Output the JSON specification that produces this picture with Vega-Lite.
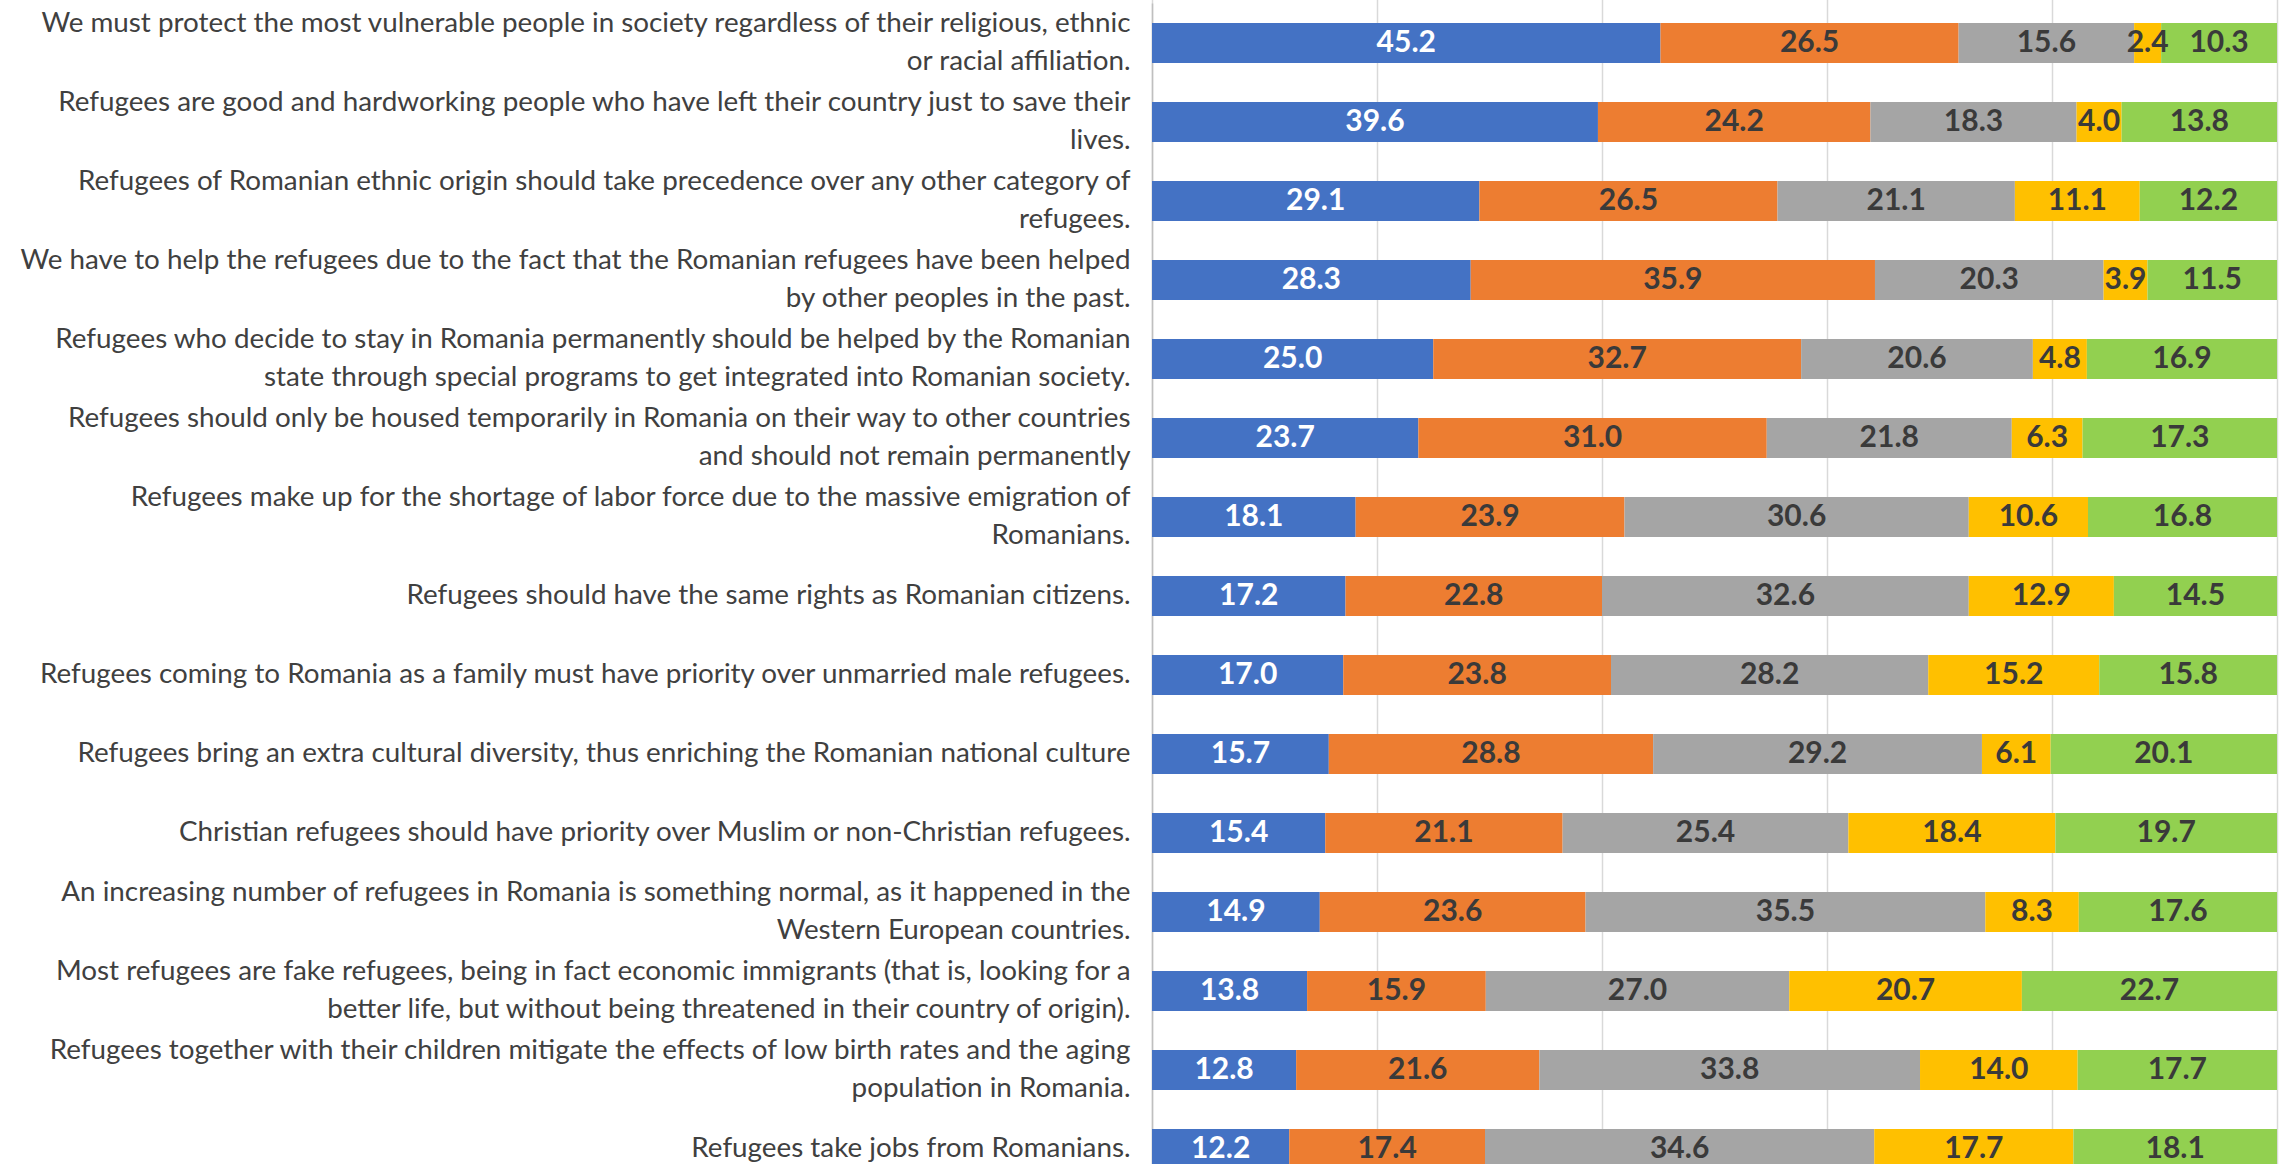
{
  "$schema": "https://vega.github.io/schema/vega-lite/v6.json",
  "autosize": {"type": "none"},
  "padding": {"left": 1152, "top": 3, "right": 10, "bottom": 0},
  "width": 1125,
  "height": 1161,
  "background": "white",
  "config": {"view": {"stroke": null}},
  "datasets": {
    "survey": [
      {"s": "We must protect the most vulnerable people in society regardless of their religious, ethnic|or racial affiliation.", "r": "Totally agree", "c": 1, "v": 45.2},
      {"s": "We must protect the most vulnerable people in society regardless of their religious, ethnic|or racial affiliation.", "r": "Somewhat agree", "c": 2, "v": 26.5},
      {"s": "We must protect the most vulnerable people in society regardless of their religious, ethnic|or racial affiliation.", "r": "Neither agree nor disagree", "c": 3, "v": 15.6},
      {"s": "We must protect the most vulnerable people in society regardless of their religious, ethnic|or racial affiliation.", "r": "Somewhat disagree", "c": 4, "v": 2.4},
      {"s": "We must protect the most vulnerable people in society regardless of their religious, ethnic|or racial affiliation.", "r": "Totally disagree", "c": 5, "v": 10.3},
      {"s": "Refugees are good and hardworking people who have left their country just to save their|lives.", "r": "Totally agree", "c": 1, "v": 39.6},
      {"s": "Refugees are good and hardworking people who have left their country just to save their|lives.", "r": "Somewhat agree", "c": 2, "v": 24.2},
      {"s": "Refugees are good and hardworking people who have left their country just to save their|lives.", "r": "Neither agree nor disagree", "c": 3, "v": 18.3},
      {"s": "Refugees are good and hardworking people who have left their country just to save their|lives.", "r": "Somewhat disagree", "c": 4, "v": 4.0},
      {"s": "Refugees are good and hardworking people who have left their country just to save their|lives.", "r": "Totally disagree", "c": 5, "v": 13.8},
      {"s": "Refugees of Romanian ethnic origin should take precedence over any other category of|refugees.", "r": "Totally agree", "c": 1, "v": 29.1},
      {"s": "Refugees of Romanian ethnic origin should take precedence over any other category of|refugees.", "r": "Somewhat agree", "c": 2, "v": 26.5},
      {"s": "Refugees of Romanian ethnic origin should take precedence over any other category of|refugees.", "r": "Neither agree nor disagree", "c": 3, "v": 21.1},
      {"s": "Refugees of Romanian ethnic origin should take precedence over any other category of|refugees.", "r": "Somewhat disagree", "c": 4, "v": 11.1},
      {"s": "Refugees of Romanian ethnic origin should take precedence over any other category of|refugees.", "r": "Totally disagree", "c": 5, "v": 12.2},
      {"s": "We have to help the refugees due to the fact that the Romanian refugees have been helped|by other peoples in the past.", "r": "Totally agree", "c": 1, "v": 28.3},
      {"s": "We have to help the refugees due to the fact that the Romanian refugees have been helped|by other peoples in the past.", "r": "Somewhat agree", "c": 2, "v": 35.9},
      {"s": "We have to help the refugees due to the fact that the Romanian refugees have been helped|by other peoples in the past.", "r": "Neither agree nor disagree", "c": 3, "v": 20.3},
      {"s": "We have to help the refugees due to the fact that the Romanian refugees have been helped|by other peoples in the past.", "r": "Somewhat disagree", "c": 4, "v": 3.9},
      {"s": "We have to help the refugees due to the fact that the Romanian refugees have been helped|by other peoples in the past.", "r": "Totally disagree", "c": 5, "v": 11.5},
      {"s": "Refugees who decide to stay in Romania permanently should be helped by the Romanian|state through special programs to get integrated into Romanian society.", "r": "Totally agree", "c": 1, "v": 25.0},
      {"s": "Refugees who decide to stay in Romania permanently should be helped by the Romanian|state through special programs to get integrated into Romanian society.", "r": "Somewhat agree", "c": 2, "v": 32.7},
      {"s": "Refugees who decide to stay in Romania permanently should be helped by the Romanian|state through special programs to get integrated into Romanian society.", "r": "Neither agree nor disagree", "c": 3, "v": 20.6},
      {"s": "Refugees who decide to stay in Romania permanently should be helped by the Romanian|state through special programs to get integrated into Romanian society.", "r": "Somewhat disagree", "c": 4, "v": 4.8},
      {"s": "Refugees who decide to stay in Romania permanently should be helped by the Romanian|state through special programs to get integrated into Romanian society.", "r": "Totally disagree", "c": 5, "v": 16.9},
      {"s": "Refugees should only be housed temporarily in Romania on their way to other countries|and should not remain permanently", "r": "Totally agree", "c": 1, "v": 23.7},
      {"s": "Refugees should only be housed temporarily in Romania on their way to other countries|and should not remain permanently", "r": "Somewhat agree", "c": 2, "v": 31.0},
      {"s": "Refugees should only be housed temporarily in Romania on their way to other countries|and should not remain permanently", "r": "Neither agree nor disagree", "c": 3, "v": 21.8},
      {"s": "Refugees should only be housed temporarily in Romania on their way to other countries|and should not remain permanently", "r": "Somewhat disagree", "c": 4, "v": 6.3},
      {"s": "Refugees should only be housed temporarily in Romania on their way to other countries|and should not remain permanently", "r": "Totally disagree", "c": 5, "v": 17.3},
      {"s": "Refugees make up for the shortage of labor force due to the massive emigration of|Romanians.", "r": "Totally agree", "c": 1, "v": 18.1},
      {"s": "Refugees make up for the shortage of labor force due to the massive emigration of|Romanians.", "r": "Somewhat agree", "c": 2, "v": 23.9},
      {"s": "Refugees make up for the shortage of labor force due to the massive emigration of|Romanians.", "r": "Neither agree nor disagree", "c": 3, "v": 30.6},
      {"s": "Refugees make up for the shortage of labor force due to the massive emigration of|Romanians.", "r": "Somewhat disagree", "c": 4, "v": 10.6},
      {"s": "Refugees make up for the shortage of labor force due to the massive emigration of|Romanians.", "r": "Totally disagree", "c": 5, "v": 16.8},
      {"s": "Refugees should have the same rights as Romanian citizens.", "r": "Totally agree", "c": 1, "v": 17.2},
      {"s": "Refugees should have the same rights as Romanian citizens.", "r": "Somewhat agree", "c": 2, "v": 22.8},
      {"s": "Refugees should have the same rights as Romanian citizens.", "r": "Neither agree nor disagree", "c": 3, "v": 32.6},
      {"s": "Refugees should have the same rights as Romanian citizens.", "r": "Somewhat disagree", "c": 4, "v": 12.9},
      {"s": "Refugees should have the same rights as Romanian citizens.", "r": "Totally disagree", "c": 5, "v": 14.5},
      {"s": "Refugees coming to Romania as a family must have priority over unmarried male refugees.", "r": "Totally agree", "c": 1, "v": 17.0},
      {"s": "Refugees coming to Romania as a family must have priority over unmarried male refugees.", "r": "Somewhat agree", "c": 2, "v": 23.8},
      {"s": "Refugees coming to Romania as a family must have priority over unmarried male refugees.", "r": "Neither agree nor disagree", "c": 3, "v": 28.2},
      {"s": "Refugees coming to Romania as a family must have priority over unmarried male refugees.", "r": "Somewhat disagree", "c": 4, "v": 15.2},
      {"s": "Refugees coming to Romania as a family must have priority over unmarried male refugees.", "r": "Totally disagree", "c": 5, "v": 15.8},
      {"s": "Refugees bring an extra cultural diversity, thus enriching the Romanian national culture", "r": "Totally agree", "c": 1, "v": 15.7},
      {"s": "Refugees bring an extra cultural diversity, thus enriching the Romanian national culture", "r": "Somewhat agree", "c": 2, "v": 28.8},
      {"s": "Refugees bring an extra cultural diversity, thus enriching the Romanian national culture", "r": "Neither agree nor disagree", "c": 3, "v": 29.2},
      {"s": "Refugees bring an extra cultural diversity, thus enriching the Romanian national culture", "r": "Somewhat disagree", "c": 4, "v": 6.1},
      {"s": "Refugees bring an extra cultural diversity, thus enriching the Romanian national culture", "r": "Totally disagree", "c": 5, "v": 20.1},
      {"s": "Christian refugees should have priority over Muslim or non-Christian refugees.", "r": "Totally agree", "c": 1, "v": 15.4},
      {"s": "Christian refugees should have priority over Muslim or non-Christian refugees.", "r": "Somewhat agree", "c": 2, "v": 21.1},
      {"s": "Christian refugees should have priority over Muslim or non-Christian refugees.", "r": "Neither agree nor disagree", "c": 3, "v": 25.4},
      {"s": "Christian refugees should have priority over Muslim or non-Christian refugees.", "r": "Somewhat disagree", "c": 4, "v": 18.4},
      {"s": "Christian refugees should have priority over Muslim or non-Christian refugees.", "r": "Totally disagree", "c": 5, "v": 19.7},
      {"s": "An increasing number of refugees in Romania is something normal, as it happened in the|Western European countries.", "r": "Totally agree", "c": 1, "v": 14.9},
      {"s": "An increasing number of refugees in Romania is something normal, as it happened in the|Western European countries.", "r": "Somewhat agree", "c": 2, "v": 23.6},
      {"s": "An increasing number of refugees in Romania is something normal, as it happened in the|Western European countries.", "r": "Neither agree nor disagree", "c": 3, "v": 35.5},
      {"s": "An increasing number of refugees in Romania is something normal, as it happened in the|Western European countries.", "r": "Somewhat disagree", "c": 4, "v": 8.3},
      {"s": "An increasing number of refugees in Romania is something normal, as it happened in the|Western European countries.", "r": "Totally disagree", "c": 5, "v": 17.6},
      {"s": "Most refugees are fake refugees, being in fact economic immigrants (that is, looking for a|better life, but without being threatened in their country of origin).", "r": "Totally agree", "c": 1, "v": 13.8},
      {"s": "Most refugees are fake refugees, being in fact economic immigrants (that is, looking for a|better life, but without being threatened in their country of origin).", "r": "Somewhat agree", "c": 2, "v": 15.9},
      {"s": "Most refugees are fake refugees, being in fact economic immigrants (that is, looking for a|better life, but without being threatened in their country of origin).", "r": "Neither agree nor disagree", "c": 3, "v": 27.0},
      {"s": "Most refugees are fake refugees, being in fact economic immigrants (that is, looking for a|better life, but without being threatened in their country of origin).", "r": "Somewhat disagree", "c": 4, "v": 20.7},
      {"s": "Most refugees are fake refugees, being in fact economic immigrants (that is, looking for a|better life, but without being threatened in their country of origin).", "r": "Totally disagree", "c": 5, "v": 22.7},
      {"s": "Refugees together with their children mitigate the effects of low birth rates and the aging|population in Romania.", "r": "Totally agree", "c": 1, "v": 12.8},
      {"s": "Refugees together with their children mitigate the effects of low birth rates and the aging|population in Romania.", "r": "Somewhat agree", "c": 2, "v": 21.6},
      {"s": "Refugees together with their children mitigate the effects of low birth rates and the aging|population in Romania.", "r": "Neither agree nor disagree", "c": 3, "v": 33.8},
      {"s": "Refugees together with their children mitigate the effects of low birth rates and the aging|population in Romania.", "r": "Somewhat disagree", "c": 4, "v": 14.0},
      {"s": "Refugees together with their children mitigate the effects of low birth rates and the aging|population in Romania.", "r": "Totally disagree", "c": 5, "v": 17.7},
      {"s": "Refugees take jobs from Romanians.", "r": "Totally agree", "c": 1, "v": 12.2},
      {"s": "Refugees take jobs from Romanians.", "r": "Somewhat agree", "c": 2, "v": 17.4},
      {"s": "Refugees take jobs from Romanians.", "r": "Neither agree nor disagree", "c": 3, "v": 34.6},
      {"s": "Refugees take jobs from Romanians.", "r": "Somewhat disagree", "c": 4, "v": 17.7},
      {"s": "Refugees take jobs from Romanians.", "r": "Totally disagree", "c": 5, "v": 18.1}
    ]
  },
  "data": {"name": "survey"},
  "encoding": {
    "y": {
      "field": "s",
      "type": "nominal",
      "sort": null,
      "title": null,
      "scale": {"range": [0, 1186], "paddingInner": 0.494, "paddingOuter": 0.253},
      "axis": {
        "labelExpr": "split(datum.label, '|')",
        "labelFont": "Lato",
        "labelFontSize": 27.8,
        "labelColor": "#404040",
        "labelLineHeight": 38,
        "labelLimit": 0,
        "labelPadding": 22,
        "labelAlign": "right",
        "labelBaseline": "middle",
        "labelOffset": {"condition": {"test": "indexof(datum.value, '|') >= 0", "value": -19}, "value": 0},
        "ticks": false,
        "domain": true,
        "domainColor": "#BFBFBF",
        "domainWidth": 1.5,
        "grid": false
      }
    }
  },
  "layer": [
    {
      "mark": {"type": "bar", "clip": true},
      "encoding": {
        "x": {
          "field": "v",
          "type": "quantitative",
          "stack": "normalize",
          "title": null,
          "scale": {"domain": [0, 1], "nice": false},
          "axis": {
            "values": [0, 0.2, 0.4, 0.6, 0.8, 1],
            "labels": false,
            "ticks": false,
            "domain": false,
            "grid": true,
            "gridColor": "#D9D9D9",
            "gridWidth": 1.5
          }
        },
        "color": {
          "field": "r",
          "type": "nominal",
          "legend": null,
          "scale": {
            "domain": ["Totally agree", "Somewhat agree", "Neither agree nor disagree", "Somewhat disagree", "Totally disagree"],
            "range": ["#4472C4", "#ED7D31", "#A5A5A5", "#FFC000", "#92D050"]
          }
        },
        "order": {"field": "c", "type": "quantitative", "sort": "ascending"}
      }
    },
    {
      "mark": {"type": "text", "clip": true, "font": "Lato", "fontSize": 30, "fontWeight": "bold", "baseline": "middle", "align": "center"},
      "encoding": {
        "x": {"field": "v", "type": "quantitative", "stack": "normalize", "bandPosition": 0.5},
        "detail": {"field": "r", "type": "nominal"},
        "order": {"field": "c", "type": "quantitative", "sort": "ascending"},
        "text": {"field": "v", "type": "quantitative", "format": ".1f"},
        "color": {"condition": {"test": "datum.c === 1", "value": "#FFFFFF"}, "value": "#3A3A3A"}
      }
    }
  ]
}
